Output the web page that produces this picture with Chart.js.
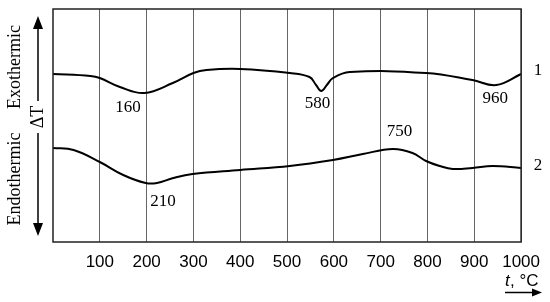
<!DOCTYPE html>
<html>
<head>
<meta charset="utf-8">
<script src="https://cdn.jsdelivr.net/npm/chart.js@4"></script>
<style>
  html, body { margin: 0; padding: 0; background: #fff; }
  #wrap { width: 550px; height: 302px; }
</style>
</head>
<body>
<div id="wrap"><canvas id="chart1"></canvas></div>
<script>
    // DTA curves, temperature in °C, ΔT in arbitrary units
    const temps1 = [0, 80, 100, 143, 195, 256, 300, 328, 400, 506, 548, 562, 573, 585, 598, 634, 797, 896, 947, 1000];
    const dta1   = [168, 166, 164, 155, 149, 159, 169, 172, 173, 169, 165, 157, 151, 157, 164, 170, 169, 162, 157, 168];
    const temps2 = [0, 44, 100, 150, 198, 222, 257, 298, 400, 506, 598, 662, 726, 768, 797, 826, 854, 896, 939, 1000];
    const dta2   = [94, 92, 80, 67, 59, 59, 64, 68, 72, 76, 82, 88, 93, 89, 81, 76, 73, 74, 76, 74];
    const xTicks = [100, 200, 300, 400, 500, 600, 700, 800, 900, 1000];

    // peak labels: [temperature, ΔT, text]
    const peaks = [
        [160, 134, '160'],
        [235, 40, '210'],
        [565, 138, '580'],
        [945, 143, '960'],
        [740, 110, '750']
    ];
    const curveNames = [[1000, 171, '1'], [1000, 76, '2']];

    const toXY = (xs, ys) => xs.map((x, i) => ({ x: x, y: ys[i] }));

    const decor = {
        id: 'decor',
        afterDraw(chart) {
            const ctx = chart.ctx;
            const a = chart.chartArea;
            const sx = chart.scales.x, sy = chart.scales.y;
            ctx.save();
            // frame
            ctx.strokeStyle = '#222';
            ctx.lineWidth = 1.5;
            ctx.strokeRect(a.left, a.top, a.right - a.left, a.bottom - a.top);

            ctx.fillStyle = '#000';
            ctx.textAlign = 'center';
            ctx.textBaseline = 'middle';
            ctx.font = '17px "Liberation Serif", "Times New Roman", serif';
            peaks.forEach(([t, v, s]) => ctx.fillText(s, sx.getPixelForValue(t), sy.getPixelForValue(v)));
            curveNames.forEach(([t, v, s]) => ctx.fillText(s, sx.getPixelForValue(t) + 17, sy.getPixelForValue(v)));

            // left axis: arrows and labels
            ctx.font = '18px "Liberation Serif", "Times New Roman", serif';
            ctx.save();
            ctx.translate(15, 67); ctx.rotate(-Math.PI / 2); ctx.fillText('Exothermic', 0, 0);
            ctx.restore();
            ctx.save();
            ctx.translate(15, 179); ctx.rotate(-Math.PI / 2); ctx.fillText('Endothermic', 0, 0);
            ctx.restore();
            ctx.save();
            ctx.translate(38, 117); ctx.rotate(-Math.PI / 2); ctx.fillText('ΔT', 0, 0);
            ctx.restore();

            ctx.strokeStyle = '#000';
            ctx.lineWidth = 1.5;
            ctx.beginPath();
            ctx.moveTo(38, 26); ctx.lineTo(38, 101);
            ctx.moveTo(38, 133); ctx.lineTo(38, 226);
            ctx.stroke();
            ctx.beginPath();
            ctx.moveTo(38, 16); ctx.lineTo(33, 29); ctx.lineTo(43, 29); ctx.closePath();
            ctx.moveTo(38, 236); ctx.lineTo(33, 223); ctx.lineTo(43, 223); ctx.closePath();
            ctx.fill();

            // x axis title
            ctx.textAlign = 'left';
            ctx.font = 'italic 17px "Liberation Sans", Arial, sans-serif';
            ctx.fillText('t', 505, 281);
            ctx.font = '17px "Liberation Sans", Arial, sans-serif';
            ctx.fillText(', °C', 510, 281);
            ctx.beginPath();
            ctx.moveTo(505, 292.5); ctx.lineTo(534, 292.5);
            ctx.stroke();
            ctx.beginPath();
            ctx.moveTo(542, 292.5); ctx.lineTo(532, 288.5); ctx.lineTo(532, 296.5); ctx.closePath();
            ctx.fill();
            ctx.restore();
        }
    };

    const lineStyle = {
        borderColor: '#000',
        borderWidth: 2,
        pointRadius: 0,
        fill: false,
        tension: 0.4
    };

    new Chart(document.getElementById('chart1'), {
        type: 'line',
        data: {
            datasets: [
                Object.assign({ label: '1', data: toXY(temps1, dta1) }, lineStyle),
                Object.assign({ label: '2', data: toXY(temps2, dta2) }, lineStyle)
            ]
        },
        options: {
            responsive: true,
            maintainAspectRatio: false,
            animation: false,
            layout: { padding: { left: 53, right: 28, top: 9, bottom: 0 } },
            plugins: { legend: { display: false }, tooltip: { enabled: false } },
            scales: {
                x: {
                    type: 'linear',
                    min: 0,
                    max: 1000,
                    afterBuildTicks(scale) { scale.ticks = xTicks.map(v => ({ value: v })); },
                    afterFit(scale) { scale.height = 60; },
                    grid: { color: '#666', lineWidth: 1, drawTicks: false },
                    border: { display: false },
                    ticks: {
                        color: '#000',
                        padding: 10,
                        maxRotation: 0,
                        autoSkip: false,
                        callback: v => String(v),
                        font: { family: '"Liberation Sans", Arial, sans-serif', size: 17 }
                    }
                },
                y: {
                    display: false,
                    min: 0,
                    max: 233
                }
            }
        },
        plugins: [decor]
    });
</script>
</body>
</html>
